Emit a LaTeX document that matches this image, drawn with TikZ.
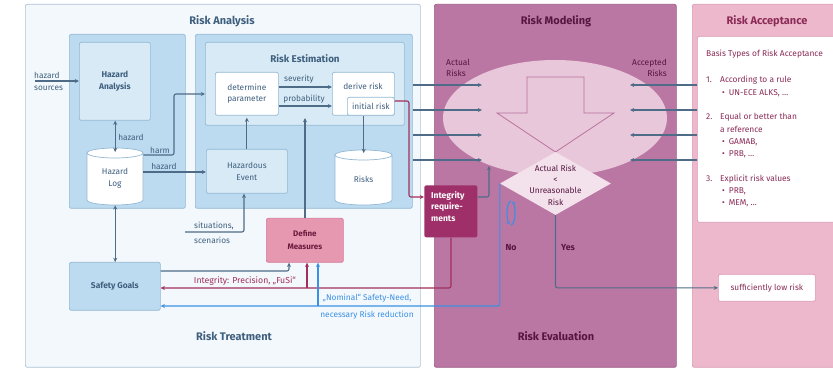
\documentclass[tikz,border=0pt]{standalone}
\usepackage{fontspec}
\setmainfont{Fira Sans}
\usetikzlibrary{arrows.meta,shapes.geometric,calc}

% palette
\definecolor{raFill}{HTML}{F2F8FC}
\definecolor{raLine}{HTML}{AFC4D4}
\definecolor{midBlue}{HTML}{BCDBF0}
\definecolor{lightBlue}{HTML}{D8EAF6}
\definecolor{boxLine}{HTML}{93B8D4}
\definecolor{slate}{HTML}{3F5F7E}
\definecolor{flow}{HTML}{4E6C87}
\definecolor{integ}{HTML}{A12F5C}
\definecolor{nomBlue}{HTML}{3B90E4}
\definecolor{dmFill}{HTML}{E798B1}
\definecolor{dmLine}{HTML}{D47A98}
\definecolor{dmText}{HTML}{6B1A3C}
\definecolor{rmFill}{HTML}{BB77A3}
\definecolor{rmLine}{HTML}{9E5C87}
\definecolor{rmText}{HTML}{561641}
\definecolor{ellFill}{HTML}{E7C7D9}
\definecolor{bigArrowLine}{HTML}{B8719C}
\definecolor{diaFill}{HTML}{F3E2EC}
\definecolor{irFill}{HTML}{9E2F68}
\definecolor{accFill}{HTML}{EEB8CC}
\definecolor{accLine}{HTML}{D99AB3}
\definecolor{accText}{HTML}{8A2B57}

\begin{document}
\begin{tikzpicture}[x=1pt,y=-1pt,
  every node/.style={inner sep=0pt},
  panel/.style={anchor=north west, rounded corners=2pt, inner sep=0pt, line width=0.7pt},
  bluebox/.style={panel, draw=boxLine, fill=midBlue},
  lightbox/.style={panel, draw=boxLine, fill=lightBlue},
  whitebox/.style={panel, draw=boxLine, fill=white},
  tip/.style={-{Stealth[length=4.2pt,width=4pt]}},
  flowarr/.style={draw=flow, line width=1.1pt, tip, rounded corners=2pt},
  integarr/.style={draw=integ, line width=1.1pt, tip, rounded corners=2pt},
  nomarr/.style={draw=nomBlue, line width=1.1pt, tip, rounded corners=2pt},
  txt/.style={font=\fontsize{8.3}{10.5}\selectfont, text=slate, align=center},
  btxt/.style={font=\fontsize{8.4}{12}\selectfont\bfseries, text=slate, align=center},
  ttl/.style={font=\fontsize{11}{13}\selectfont\bfseries, text=slate},
  rmtxt/.style={font=\fontsize{8.4}{11}\selectfont, text=rmText},
  acctxt/.style={font=\fontsize{8.4}{10}\selectfont, text=accText, anchor=west},
]
\useasboundingbox (0,0) rectangle (833,371);
\fill[white] (0,0) rectangle (833,371);

% ---------------- Risk Analysis / Risk Treatment panel ----------------
\node[panel, draw=raLine, fill=raFill, minimum width=395pt, minimum height=363pt] (ra) at (25,4) {};
\node[ttl] (raT) at (222,21) {Risk Analysis};
\node[ttl] (rtT) at (234,336) {Risk Treatment};

\node[bluebox, minimum width=116pt, minimum height=174pt] (hcol) at (69,34) {};
\node[bluebox, minimum width=217pt, minimum height=174pt] (recol) at (195,34) {};

\node[lightbox, minimum width=71pt, minimum height=78pt, btxt] (ha) at (79,42) {Hazard\\Analysis};
\node[lightbox, minimum width=199pt, minimum height=83pt] (re) at (205,42) {};
\node[btxt, font=\fontsize{9.8}{12}\selectfont\bfseries] (reT) at (305,59) {Risk Estimation};

\node[whitebox, minimum width=63pt, minimum height=43pt, txt, font=\fontsize{8.3}{10.5}\selectfont] (dp) at (215,72) {determine\\parameter};
\node[whitebox, minimum width=62pt, minimum height=43pt] (dr) at (332,72) {};
\node[txt] (drT) at (363,86) {derive risk};
\node[whitebox, minimum width=47pt, minimum height=18pt, txt] (ir) at (347,97) {initial risk};

\node[lightbox, minimum width=81pt, minimum height=44pt, txt, font=\fontsize{8.3}{12}\selectfont] (he) at (206,149) {Hazardous\\Event};

% cylinders (Hazard Log, Risks)
\node[anchor=north west, minimum width=56pt, minimum height=57pt] (hlog) at (87,148) {};
\path[fill=white, draw=boxLine, line width=0.7pt] (87,153) -- (87,200)
  arc[start angle=180, end angle=360, x radius=28pt, y radius=5pt] -- (143,153)
  arc[start angle=0, end angle=180, x radius=28pt, y radius=5pt] -- cycle;
\draw[boxLine, line width=0.7pt] (87,153) arc[start angle=180, end angle=360, x radius=28pt, y radius=5pt];
\node[txt, font=\fontsize{8.3}{11.5}\selectfont] (hlogT) at (115,178.5) {Hazard\\Log};

\node[anchor=north west, minimum width=57pt, minimum height=55pt] (risks) at (335,150) {};
\path[fill=white, draw=boxLine, line width=0.7pt] (335,155) -- (335,200)
  arc[start angle=180, end angle=360, x radius=28.5pt, y radius=5pt] -- (392,155)
  arc[start angle=0, end angle=180, x radius=28.5pt, y radius=5pt] -- cycle;
\draw[boxLine, line width=0.7pt] (335,155) arc[start angle=180, end angle=360, x radius=28.5pt, y radius=5pt];
\node[txt] (risksT) at (363.5,179) {Risks};

\node[bluebox, minimum width=91pt, minimum height=48pt, btxt] (sg) at (69,262) {Safety Goals};
\node[panel, draw=dmLine, fill=dmFill, minimum width=77pt, minimum height=44pt,
      font=\fontsize{8}{13}\selectfont\bfseries, text=dmText, align=center] (dm) at (266,218) {Define\\Measures};

% ---------------- Risk Modeling / Risk Evaluation panel ----------------
\node[panel, draw=rmLine, fill=rmFill, minimum width=242pt, minimum height=363pt] (rm) at (434,4) {};
\node[ttl, text=rmText] (rmT) at (556,21) {Risk Modeling};
\node[ttl, text=rmText] (reT2) at (556,336) {Risk Evaluation};

\node[ellipse, fill=ellFill, minimum width=224pt, minimum height=116pt] (ell) at (555,118) {};
\path[fill=ellFill, draw=bigArrowLine, line width=0.8pt]
  (527,77) -- (584,77) -- (584,113) -- (614,113) -- (555.5,152) -- (497,113) -- (527,113) -- cycle;
\node[diamond, fill=diaFill, minimum width=111pt, minimum height=63pt] (dia) at (555.5,183.5) {};
\node[rmtxt, align=center, font=\fontsize{8.3}{11.3}\selectfont] (diaT) at (555.5,185) {Actual Risk\\<\\Unreasonable\\Risk};

\node[rmtxt, anchor=west, align=left] (actT) at (446,68) {Actual\\Risks};
\node[rmtxt, anchor=east, align=right] (accT) at (667,68) {Accepted\\Risks};

\node[panel, fill=irFill, minimum width=53pt, minimum height=52pt] (intr) at (424,185) {};
\node[anchor=north west, align=left, text=white, font=\fontsize{8.5}{11.5}\selectfont\bfseries] (intrT) at (431,191) {Integrity\\require-\\ments};

\node[font=\fontsize{8.8}{10}\selectfont\bfseries, text=rmText] (noT) at (511,248) {No};
\node[font=\fontsize{8.8}{10}\selectfont\bfseries, text=rmText] (yesT) at (568,248) {Yes};
% loop symbol next to "No"
\draw[nomBlue, line width=1.2pt, -{Stealth[length=2.8pt,width=3.4pt]}]
  (511,201) arc[start angle=90, end angle=250, x radius=4pt, y radius=12pt];
\draw[nomBlue, line width=1.2pt, -{Stealth[length=2.8pt,width=3.4pt]}]
  (511,225) arc[start angle=270, end angle=430, x radius=4pt, y radius=12pt];

% ---------------- Risk Acceptance panel ----------------
\node[panel, draw=accLine, fill=accFill, minimum width=150pt, minimum height=363pt] (rac) at (692,4) {};
\node[ttl, text=accText] (racT) at (767,21) {Risk Acceptance};
\node[panel, draw=accLine, fill=white, minimum width=150pt, minimum height=186pt] (lst) at (697,36) {};
\node[acctxt] (l0) at (706,54) {Basis Types of Risk Acceptance};
\node[acctxt] (l1n) at (706,80) {1.};
\node[acctxt] (l1) at (720,80) {According to a rule};
\node[acctxt] (l1a) at (722,93) {•\hspace{4pt}UN-ECE ALKS, …};
\node[acctxt] (l2n) at (706,117) {2.};
\node[acctxt] (l2) at (720,117) {Equal or better than};
\node[acctxt] (l2b) at (720,129) {a reference};
\node[acctxt] (l2c) at (722,142) {•\hspace{4pt}GAMAB,};
\node[acctxt] (l2d) at (722,154) {•\hspace{4pt}PRB, …};
\node[acctxt] (l3n) at (706,179) {3.};
\node[acctxt] (l3) at (720,179) {Explicit risk values};
\node[acctxt] (l3a) at (722,191) {•\hspace{4pt}PRB,};
\node[acctxt] (l3b) at (722,203) {•\hspace{4pt}MEM, …};
\node[panel, draw=accLine, fill=white, minimum width=97pt, minimum height=27pt,
      font=\fontsize{8.3}{10}\selectfont, text=accText] (slr) at (718,274) {sufficiently low risk};

% ---------------- connectors ----------------
\coordinate (hsrc) at (35,81);
\node[txt, anchor=west, align=left, font=\fontsize{8.3}{12}\selectfont] (hsrcT) at (34,81) {hazard\\sources};
\draw[flowarr] (hsrc) -- (hsrc -| ha.west);

\draw[flowarr, {Stealth[length=4.2pt,width=4pt]}-{Stealth[length=4.2pt,width=4pt]}]
  (ha.south -| hlog.north) -- ([yshift=-4pt]hlog.north);
\node[txt] (hazT1) at (131,137) {hazard};

\draw[flowarr, {Stealth[length=4.2pt,width=4pt]}-{Stealth[length=4.2pt,width=4pt]}]
  (hlog.south) -- (hlog.south |- sg.north);

\coordinate (yHarm) at (0,155);
\coordinate (harmBend) at (174,94);
\draw[flowarr] (hlog.east |- yHarm) -| (harmBend) -- (harmBend -| re.west);
\node[txt] (harmT) at (160,150) {harm};

\coordinate (yHaz) at (0,172);
\draw[flowarr] (hlog.east |- yHaz) -- (he.west |- yHaz);
\node[txt] (hazT2) at (164,166) {hazard};

\coordinate (ySev) at (0,87);
\coordinate (yProb) at (0,106);
\draw[flowarr] (dp.east |- ySev) -- (dr.west |- ySev);
\draw[flowarr] (dp.east |- yProb) -- (dr.west |- yProb);
\node[txt] (sevT) at (299,79) {severity};
\node[txt] (probT) at (304,99) {probability};

\draw[flowarr] (he.north) -- ([yshift=-2pt]he.north |- dp.south);
\draw[flowarr] (risks.north |- ir.south) -- ([yshift=-3pt]risks.north);

\coordinate (dmTip) at (305,118);
\draw[flowarr] (dm.north -| dmTip) -- (dmTip);

\coordinate (sitStart) at (185,232);
\coordinate (sitBend) at (244,232);
\draw[flowarr] (sitStart) -- (sitBend) -- (sitBend |- he.south);
\node[txt, anchor=west] (sitT) at (194,226) {situations,};
\node[txt, anchor=west] (scenT) at (194,240) {scenarios};

\coordinate (sgBend) at (289,271);
\draw[flowarr] (sg.east |- sgBend) -- (sgBend) -- (sgBend |- dm.south);

% integrity path
\coordinate (irLevel) at (0,101);
\coordinate (redBend) at (409,197);
\draw[integarr] (ir.east |- irLevel) -| (redBend) -- (redBend -| intr.west);
\coordinate (intrTip) at (489,166);
\draw[flowarr] (intr.east |- redBend) -| (intrTip);
\coordinate (redLow) at (451,288);
\draw[integarr] (intr.south -| redLow) -- (redLow) -- (redLow -| sg.east);
\coordinate (redBranch) at (307,288);
\draw[integarr] (redBranch) -- (redBranch |- dm.south);
\node[txt, text=integ, font=\fontsize{8.7}{10}\selectfont] (integT) at (245,281) {Integrity: Precision, „FuSi“};

% nominal safety need path
\coordinate (blueLow) at (499,306);
\draw[nomarr] (dia.west) -- (dia.west |- blueLow) -- (blueLow -| sg.east);
\coordinate (blueBranch) at (318,306);
\draw[nomarr] (blueBranch) -- (blueBranch |- dm.south);
\node[txt, text=nomBlue] (nomT1) at (367,298) {„Nominal“ Safety-Need,};
\node[txt, text=nomBlue] (nomT2) at (367,315) {necessary Risk reduction};

% Yes path
\draw[flowarr] (dia.south) |- (slr.west);

% actual risks into the model
\foreach \yy [count=\i] in {85,110,135,160} {
  \coordinate (act\i) at (482,\yy);
  \draw[flowarr] (recol.east |- act\i) -- (act\i);
  \coordinate (acc\i) at (630,\yy);
  \draw[flowarr] (lst.west |- acc\i) -- (acc\i);
}
\end{tikzpicture}
\end{document}
